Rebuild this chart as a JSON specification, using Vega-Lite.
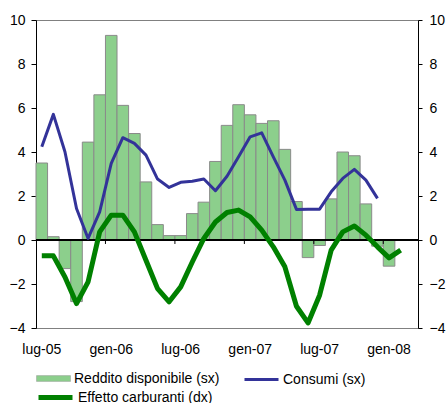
{
  "$schema": "https://vega.github.io/schema/vega-lite/v6.json",
  "width": 382,
  "height": 308,
  "autosize": {"type": "none"},
  "padding": {"left": 36, "top": 20, "right": 28, "bottom": 75},
  "background": "white",
  "config": {
    "font": "Liberation Sans",
    "view": {"stroke": "#808080", "strokeWidth": 1},
    "axis": {"grid": false, "title": null, "labelFont": "Liberation Sans", "labelFontSize": 14, "labelColor": "#000", "domainColor": "#000", "tickColor": "#000"},
    "legend": {"orient": "none", "title": null, "labelFont": "Liberation Sans", "labelFontSize": 14, "labelColor": "#000", "labelOffset": 3, "symbolSize": 1156, "symbolOpacity": 1}
  },
  "data": {
    "values": [
      {"mese": "lug-05", "reddito": 3.5, "consumi": 4.24, "effetto": -0.72},
      {"mese": "ago-05", "reddito": 0.15, "consumi": 5.71, "effetto": -0.72},
      {"mese": "set-05", "reddito": -1.3, "consumi": 4.01, "effetto": -1.68},
      {"mese": "ott-05", "reddito": -2.8, "consumi": 1.43, "effetto": -2.89},
      {"mese": "nov-05", "reddito": 4.45, "consumi": 0.07, "effetto": -1.9},
      {"mese": "dic-05", "reddito": 6.6, "consumi": 1.28, "effetto": 0.37},
      {"mese": "gen-06", "reddito": 9.3, "consumi": 3.48, "effetto": 1.13},
      {"mese": "feb-06", "reddito": 6.12, "consumi": 4.65, "effetto": 1.13},
      {"mese": "mar-06", "reddito": 4.84, "consumi": 4.39, "effetto": 0.37},
      {"mese": "apr-06", "reddito": 2.64, "consumi": 3.86, "effetto": -0.92},
      {"mese": "mag-06", "reddito": 0.7, "consumi": 2.77, "effetto": -2.21},
      {"mese": "giu-06", "reddito": 0.2, "consumi": 2.39, "effetto": -2.81},
      {"mese": "lug-06", "reddito": 0.2, "consumi": 2.62, "effetto": -2.13},
      {"mese": "ago-06", "reddito": 1.2, "consumi": 2.67, "effetto": -1.0},
      {"mese": "set-06", "reddito": 1.72, "consumi": 2.77, "effetto": 0.07},
      {"mese": "ott-06", "reddito": 3.57, "consumi": 2.24, "effetto": 0.82},
      {"mese": "nov-06", "reddito": 5.21, "consumi": 2.9, "effetto": 1.25},
      {"mese": "dic-06", "reddito": 6.15, "consumi": 3.78, "effetto": 1.36},
      {"mese": "gen-07", "reddito": 5.69, "consumi": 4.69, "effetto": 1.05},
      {"mese": "feb-07", "reddito": 5.3, "consumi": 4.87, "effetto": 0.45},
      {"mese": "mar-07", "reddito": 5.42, "consumi": 3.78, "effetto": -0.31},
      {"mese": "apr-07", "reddito": 4.12, "consumi": 2.72, "effetto": -1.22},
      {"mese": "mag-07", "reddito": 1.75, "consumi": 1.39, "effetto": -3.01},
      {"mese": "giu-07", "reddito": -0.8, "consumi": 1.4, "effetto": -3.77},
      {"mese": "lug-07", "reddito": -0.25, "consumi": 1.4, "effetto": -2.51},
      {"mese": "ago-07", "reddito": 1.87, "consumi": 2.19, "effetto": -0.46},
      {"mese": "set-07", "reddito": 4.0, "consumi": 2.8, "effetto": 0.37},
      {"mese": "ott-07", "reddito": 3.83, "consumi": 3.21, "effetto": 0.64},
      {"mese": "nov-07", "reddito": 1.64, "consumi": 2.72, "effetto": 0.22},
      {"mese": "dic-07", "reddito": -0.28, "consumi": 1.89, "effetto": -0.31},
      {"mese": "gen-08", "reddito": -1.19, "consumi": null, "effetto": -0.81},
      {"mese": "feb-08", "reddito": null, "consumi": null, "effetto": -0.46},
      {"mese": "mar-08", "reddito": null, "consumi": null, "effetto": null}
    ]
  },
  "layer": [
    {
      "mark": {"type": "bar", "stroke": "#8a8a8a", "strokeWidth": 1},
      "encoding": {
        "x": {
          "field": "mese", "type": "ordinal", "sort": null,
          "scale": {"paddingInner": 0, "paddingOuter": 0},
          "axis": {
            "orient": "bottom", "domain": false, "ticks": false, "labelAngle": 0, "labelPadding": 14,
            "values": ["lug-05", "gen-06", "lug-06", "gen-07", "lug-07", "gen-08"]
          }
        },
        "y": {
          "field": "reddito", "type": "quantitative",
          "scale": {"domain": [-4, 10], "nice": false, "zero": false},
          "axis": {"orient": "left", "values": [-4, -2, 0, 2, 4, 6, 8, 10], "tickSize": 5, "labelPadding": 6}
        },
        "fill": {
          "datum": "Reddito disponibile (sx)", "type": "nominal",
          "scale": {"range": ["#8ccf8c"]},
          "legend": {
            "legendX": 0, "legendY": 341,
            "symbolType": "M-1,-0.17H1V0.17H-1Z", "symbolFillColor": "#8ccf8c",
            "symbolStrokeColor": "#9a9a9a", "symbolStrokeWidth": 0.5
          }
        }
      }
    },
    {
      "mark": {"type": "rule", "color": "#000", "strokeWidth": 1},
      "encoding": {
        "y": {"datum": 0, "type": "quantitative", "scale": {"domain": [-4, 10], "nice": false, "zero": false}, "axis": null}
      }
    },
    {
      "transform": [{"filter": {"field": "mese", "oneOf": ["gen-06", "lug-06", "gen-07", "lug-07", "gen-08"]}}],
      "mark": {"type": "rule", "color": "#000", "strokeWidth": 1},
      "encoding": {
        "x": {"field": "mese", "type": "ordinal", "sort": null, "bandPosition": 0},
        "y": {"datum": 0, "type": "quantitative", "scale": {"domain": [-4, 10], "nice": false, "zero": false}, "axis": null},
        "y2": {"datum": -0.18}
      }
    },
    {
      "mark": {"type": "line", "strokeWidth": 3, "strokeJoin": "round"},
      "encoding": {
        "x": {"field": "mese", "type": "ordinal", "sort": null},
        "y": {
          "field": "consumi", "type": "quantitative",
          "scale": {"domain": [-4, 10], "nice": false, "zero": false},
          "axis": null
        },
        "stroke": {
          "datum": "Consumi (sx)", "type": "nominal",
          "scale": {"range": ["#333399"]},
          "legend": {
            "legendX": 207, "legendY": 341,
            "symbolType": "M-1,0H1", "symbolStrokeWidth": 3
          }
        }
      }
    },
    {
      "mark": {"type": "line", "strokeWidth": 5, "strokeJoin": "round"},
      "encoding": {
        "x": {"field": "mese", "type": "ordinal", "sort": null},
        "y": {
          "field": "effetto", "type": "quantitative",
          "scale": {"domain": [-4, 10], "nice": false, "zero": false},
          "axis": {"orient": "right", "values": [-4, -2, 0, 2, 4, 6, 8, 10], "tickSize": 4, "labelPadding": 7}
        },
        "color": {
          "datum": "Effetto carburanti (dx)", "type": "nominal",
          "scale": {"range": ["#008000"]},
          "legend": {
            "legendX": 0, "legendY": 358,
            "symbolType": "M-1,0H1", "symbolStrokeWidth": 5
          }
        }
      }
    }
  ],
  "resolve": {"scale": {"y": "independent"}}
}
